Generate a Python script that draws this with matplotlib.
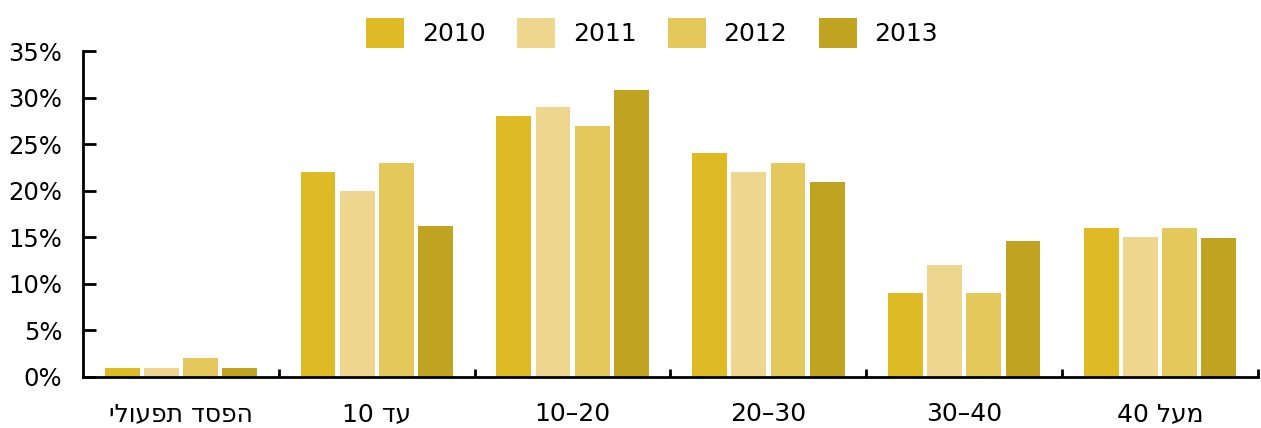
import numpy as np
import matplotlib.pyplot as plt
import matplotlib.ticker as ticker

plt.rcParams["font.family"] = ["DejaVu Sans"]

# 数据
categories = ["הפסד תפעולי", "עד 10", "10–20", "20–30", "30–40", "מעל 40"]
years = ["2010", "2011", "2012", "2013"]
v2010 = [1, 22, 28, 24, 9, 16]
v2011 = [1, 20, 29, 22, 12, 15]
v2012 = [2, 23, 27, 23, 9, 16]
v2013 = [1, 16.2, 30.8, 20.9, 14.6, 14.9]
y_ticks = [0, 5, 10, 15, 20, 25, 30, 35]

color_select = ['#DEBB24', '#EED68F', '#E5C85C', '#BFA321']


def is_hebrew(s):
    return any('\u0590' <= c <= '\u05ff' for c in s)


def visual_order(s):
    #  matplotlib 不做 bidi，希伯来文需要手动翻转成视觉顺序
    if not is_hebrew(s):
        return s
    words = s.split(' ')[::-1]
    return ' '.join(w[::-1] if is_hebrew(w) else w for w in words)


def draw():
    fig = plt.figure(figsize=(12.61, 4.28), dpi=100)
    ax = fig.add_axes([0.0658, 0.1192, 0.9318, 0.7616])

    series = [v2010, v2011, v2012, v2013]
    x = np.arange(len(categories)) + 0.5
    step = 0.2
    bar_w = 0.178
    for i, vals in enumerate(series):
        ax.bar(x + (i - 1.5) * step, vals, width=bar_w, color=color_select[i],
               label=years[i], linewidth=0)

    #  坐标轴设置
    ax.set_xlim(0, 6)
    ax.set_ylim(0, 35)
    ax.set_yticks(y_ticks)
    ax.yaxis.set_major_formatter(ticker.FuncFormatter(lambda v, p: "{:d}%".format(int(v))))
    ax.set_xticks(np.arange(1, 7))
    ax.set_xticklabels([])
    ax.set_xticks(x, minor=True)
    ax.set_xticklabels([visual_order(c) for c in categories], minor=True)

    ax.spines['top'].set_visible(False)
    ax.spines['right'].set_visible(False)
    ax.spines['left'].set_linewidth(2)
    ax.spines['bottom'].set_linewidth(2)

    ax.tick_params(axis='y', direction='in', length=9, width=2, labelsize=17.5, pad=15)
    ax.tick_params(axis='x', which='major', direction='in', length=6, width=2)
    ax.tick_params(axis='x', which='minor', length=0, labelsize=18, pad=18)

    fig.legend(loc='center', bbox_to_anchor=(652 / 1261, 0.923), ncol=4, frameon=False,
               fontsize=18, handlelength=1.52, handleheight=1.48, columnspacing=1.25,
               handletextpad=0.72, borderaxespad=0, borderpad=0)

    fig.savefig('out.png', dpi=100)


if __name__ == '__main__':
    draw()
